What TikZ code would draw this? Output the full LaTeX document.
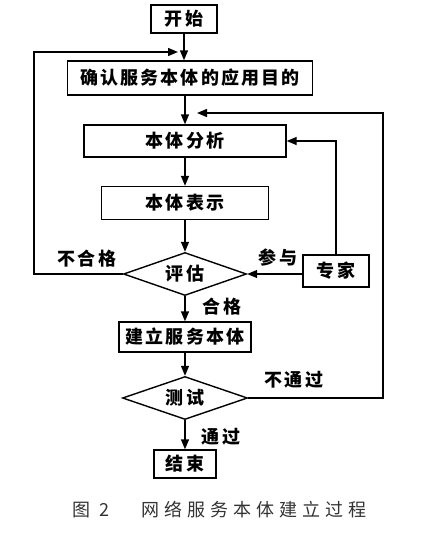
\documentclass[tikz,border=0pt]{standalone}
\usepackage{fontspec}
\newfontfamily\cjk{Noto Sans CJK SC}[LetterSpace=12]
\newfontfamily\cjkcap{Noto Sans CJK SC}[LetterSpace=28]
\usetikzlibrary{shapes.geometric,arrows.meta}
\tikzset{
    box/.style={draw, line width=1.4pt, inner sep=0pt, font=\cjk\bfseries\fontsize{18}{20}\selectfont},
    decision/.style={diamond, aspect=3, draw, line width=1.4pt, inner sep=0pt, font=\cjk\bfseries\fontsize{18}{20}\selectfont},
    lbl/.style={font=\cjk\bfseries\fontsize{18}{20}\selectfont},
    arr/.style={line width=1.4pt, -{Triangle[length=10pt,width=8pt]}},
}
\begin{document}
\begin{tikzpicture}[x=1pt,y=-1pt]
        \useasboundingbox (0,0) rectangle (443,542);
        \node [box, minimum width=66pt, minimum height=28pt] (start) at (184,19) {开始};
        \node [box, minimum width=245pt, minimum height=34pt] (confirm) at (190,78) {确认服务本体的应用目的};
        \node [box, minimum width=202pt, minimum height=32pt] (analysis) at (185,141) {本体分析};
        \node [box, minimum width=167pt, minimum height=33pt] (repr) at (185,203) {本体表示};
        \node [decision, minimum width=123pt, minimum height=43pt] (eval) at (185,274) {评估};
        \node [box, minimum width=66pt, minimum height=32pt] (expert) at (336,271) {专家};
        \node [box, minimum width=132pt, minimum height=30pt] (build) at (185,337) {建立服务本体};
        \node [decision, minimum width=125pt, minimum height=43pt] (test) at (185,398) {测试};
        \node [box, minimum width=62pt, minimum height=28pt] (finish) at (185,464) {结束};
        \coordinate (lefttop) at (34,52);
        \coordinate (in1) at (178,52);
        \coordinate (righttop) at (383,113);
        \coordinate (in2) at (197,113);
        \draw[arr] (start) -- (start |- confirm.north);
        \draw[arr] (analysis |- confirm.south) -- (analysis);
        \draw[arr] (analysis) -- (repr);
        \draw[arr] (repr) -- (eval);
        \draw[arr] (eval) -- (build);
        \draw[arr] (build) -- (test);
        \draw[arr] (test) -- (finish);
        \draw[arr] (expert.west |- eval.east) -- (eval.east);
        \draw[arr] (expert.north) |- (analysis.east);
        \draw[arr] (eval.west) -| (lefttop) -- (in1);
        \draw[arr] (test.east) -| (righttop) -- (in2);
        \node [lbl] (fail) at (87,259) {不合格};
        \node [lbl] (join) at (278,258) {参与};
        \node [lbl] (pass) at (222,307) {合格};
        \node [lbl] (nopass) at (294,380) {不通过};
        \node [lbl] (ok) at (221,437) {通过};
        \node [font=\cjkcap\fontsize{18}{20}\selectfont, text=black!80] (fig) at (91,510) {图 2};
        \node [font=\cjkcap\fontsize{18}{20}\selectfont, text=black!80] (cap) at (254,510) {网络服务本体建立过程};
    \end{tikzpicture}
\end{document}
